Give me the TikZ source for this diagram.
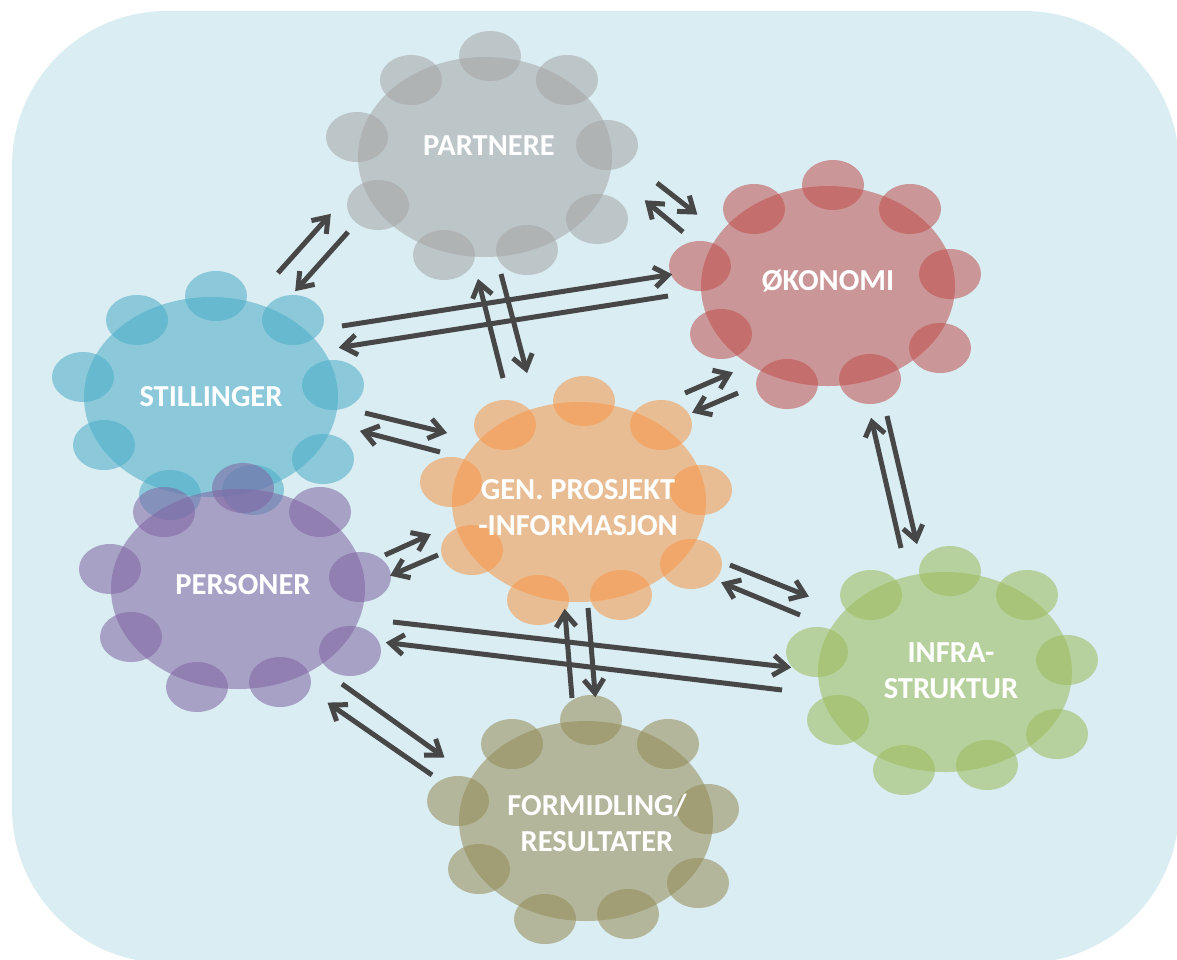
\documentclass[tikz,border=0pt]{standalone}
\usepackage{fontspec}
\setmainfont{Carlito}
\usetikzlibrary{calc}

\definecolor{bgblue}{HTML}{DAEDF3}
\definecolor{cgrey}{HTML}{A5A5A5}
\definecolor{cred}{HTML}{C0504D}
\definecolor{caqua}{HTML}{4BACC6}
\definecolor{cpurple}{HTML}{8064A2}
\definecolor{corange}{HTML}{F79646}
\definecolor{cgreen}{HTML}{9BBB59}
\definecolor{colive}{HTML}{948A54}
\definecolor{arrowgrey}{HTML}{474747}

\tikzset{
  blobfill/.style={fill=#1, fill opacity=0.55},
  % a flower-like blob: a large ellipse ringed by nine small ones
  pics/blob/.style={code={
    \fill[blobfill=#1] (0,0) ellipse[x radius=127, y radius=100];
    \foreach \dx/\dy in {5/-101, -74/-77, 82/-77, -128/-20, 122/-12,
                         -107/48, 112/62, -41/98, 42/93}
      {\fill[blobfill=#1] (\dx,\dy) ellipse[x radius=31, y radius=25];}
  }},
  tag/.style={text=white, font=\bfseries\fontsize{30.5}{36}\selectfont, align=center},
  shaft/.style={draw=arrowgrey, line width=5pt, shorten >=2pt},
  barb/.style={draw=arrowgrey, line width=5pt, line join=miter},
}

\begin{document}
\begin{tikzpicture}[x=1pt, y=-1pt]
  \useasboundingbox (0,0) rectangle (1177,959);
  \clip (0,0) rectangle (1177,959);
  \fill[white] (0,0) rectangle (1177,959);
  \fill[bgblue, rounded corners=155pt] (12,11) rectangle (1179,963);

  % blobs
  \pic (bpart) at (485,157) {blob=cgrey};
  \pic (boko)  at (828,286) {blob=cred};
  \pic (bstil) at (211,397) {blob=caqua};
  \pic (bpers) at (238,589) {blob=cpurple};
  \pic (bgen)  at (579,502) {blob=corange};
  \pic (binfr) at (945,672) {blob=cgreen};
  \pic (bform) at (586,821) {blob=colive};

  % arrow end points (a = tail, b = head)
  \coordinate (sp1a) at (278,273); \coordinate (sp1b) at (328,217);
  \coordinate (sp2a) at (348,232); \coordinate (sp2b) at (298,288);
  \coordinate (po1a) at (657,183); \coordinate (po1b) at (694,212);
  \coordinate (po2a) at (683,232); \coordinate (po2b) at (648,203);
  \coordinate (so1a) at (342,326); \coordinate (so1b) at (668,275);
  \coordinate (so2a) at (668,296); \coordinate (so2b) at (343,347);
  \coordinate (pg1a) at (503,378); \coordinate (pg1b) at (479,283);
  \coordinate (pg2a) at (501,274); \coordinate (pg2b) at (526,369);
  \coordinate (og1a) at (685,393); \coordinate (og1b) at (729,374);
  \coordinate (og2a) at (738,393); \coordinate (og2b) at (696,411);
  \coordinate (sg1a) at (365,413); \coordinate (sg1b) at (443,432);
  \coordinate (sg2a) at (440,452); \coordinate (sg2b) at (364,432);
  \coordinate (eg1a) at (385,555); \coordinate (eg1b) at (427,536);
  \coordinate (eg2a) at (438,555); \coordinate (eg2b) at (394,574);
  \coordinate (gi1a) at (730,565); \coordinate (gi1b) at (805,595);
  \coordinate (gi2a) at (800,615); \coordinate (gi2b) at (725,584);
  \coordinate (ei1a) at (393,622); \coordinate (ei1b) at (787,667);
  \coordinate (ei2a) at (782,690); \coordinate (ei2b) at (390,643);
  \coordinate (gf1a) at (588,608); \coordinate (gf1b) at (595,693);
  \coordinate (gf2a) at (572,698); \coordinate (gf2b) at (565,613);
  \coordinate (ef1a) at (342,684); \coordinate (ef1b) at (441,755);
  \coordinate (ef2a) at (432,775); \coordinate (ef2b) at (331,705);
  \coordinate (oi1a) at (901,548); \coordinate (oi1b) at (872,422);
  \coordinate (oi2a) at (887,416); \coordinate (oi2b) at (916,540);

  % paired arrows with open barbed heads
  \foreach \p in {sp1,sp2,po1,po2,so1,so2,pg1,pg2,og1,og2,sg1,sg2,
                  eg1,eg2,gi1,gi2,ei1,ei2,gf1,gf2,ef1,ef2,oi1,oi2}
    {\draw[shaft] (\p a) -- (\p b);
     \draw[barb] ($(\p b)!17pt!36:(\p a)$) -- (\p b) -- ($(\p b)!17pt!-36:(\p a)$);}

  % labels
  \node[tag] (partnere) at (489,146) {PARTNERE};
  \node[tag] (okonomi)  at (828,281) {ØKONOMI};
  \node[tag] (stilling) at (211,397) {STILLINGER};
  \node[tag] (personer) at (243,585) {PERSONER};
  \node[tag] (genpro)   at (578,508) {GEN. PROSJEKT\\-INFORMASJON};
  \node[tag] (infra)    at (951,671) {INFRA-\\STRUKTUR};
  \node[tag] (formid)   at (597,823) {FORMIDLING/\\RESULTATER};
\end{tikzpicture}
\end{document}
